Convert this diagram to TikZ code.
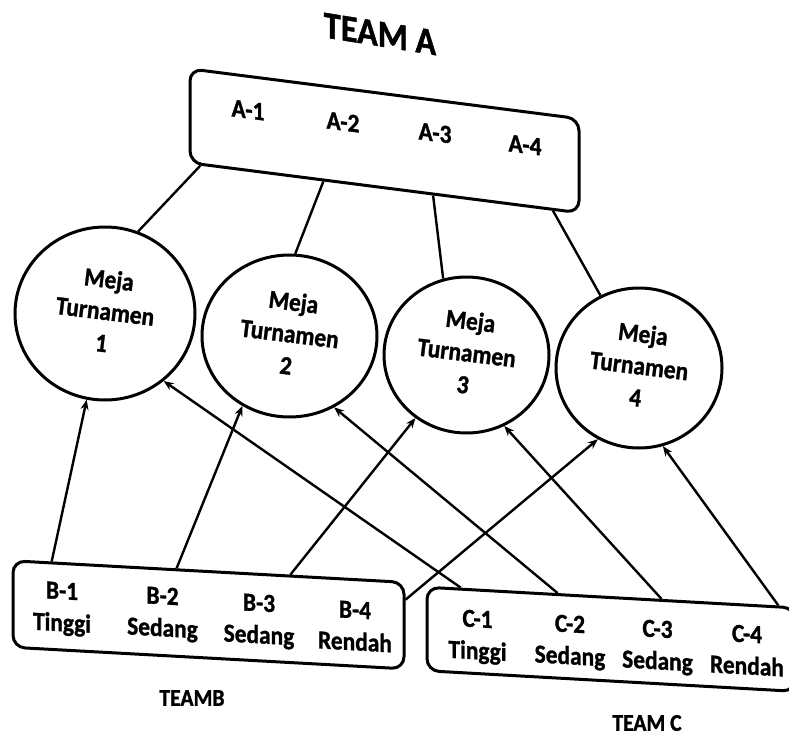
\documentclass[tikz,border=0pt]{standalone}
\usepackage{fontspec}
\setmainfont{Carlito}[FakeStretch=0.9, BoldFeatures={FakeBold=1.2}]
\usetikzlibrary{shapes.geometric,arrows.meta,calc}
\begin{document}
\begin{tikzpicture}[x=1pt,y=-1pt,
  txt/.style={font=\bfseries\fontsize{26}{32}\selectfont, align=center, inner sep=0pt},
  teambox/.style={draw, line width=3pt, rectangle, rounded corners=12pt, inner sep=0pt},
  mejacircle/.style={draw, ellipse, line width=3pt, inner sep=0pt,
    font=\bfseries\fontsize{26}{32}\selectfont},
  link/.style={line width=2.4pt},
  arr/.style={line width=2.4pt, -{Stealth[length=10pt,width=8pt]}}]
\useasboundingbox (0,0) rectangle (789,738);
\clip (0,0) rectangle (789,738);
\fill[white] (0,0) rectangle (789,738);

% title
\node[font=\bfseries\fontsize{38}{40}\selectfont, inner sep=0pt, yslant=-0.16] (title) at (380,34) {TEAM A};

% team boxes
\node[teambox, minimum width=389pt, minimum height=94pt, yslant=-0.128] (A) at (384.5,140.8) {};
\node[teambox, minimum width=391pt, minimum height=86.5pt, yslant=-0.055] (B) at (208.5,614.8) {};
\node[teambox, minimum width=368pt, minimum height=83.5pt, yslant=-0.056] (C) at (611,639.3) {};

% labels in A
\node[txt, yslant=-0.128] (a1) at (248,110) {A-1};
\node[txt, yslant=-0.128] (a2) at (343,122) {A-2};
\node[txt, yslant=-0.128] (a3) at (435,133) {A-3};
\node[txt, yslant=-0.128] (a4) at (525,145) {A-4};

% labels in B
\node[txt, yslant=-0.055] (b1) at (62,609) {B-1\\Tinggi};
\node[txt, yslant=-0.055] (b2) at (162.5,614) {B-2\\Sedang};
\node[txt, yslant=-0.055] (b3) at (259,621) {B-3\\Sedang};
\node[txt, yslant=-0.055] (b4) at (355,626) {B-4\\Rendah};

% labels in C
\node[txt, yslant=-0.056] (c1) at (477.5,637) {C-1\\Tinggi};
\node[txt, yslant=-0.056] (c2) at (570,642) {C-2\\Sedang};
\node[txt, yslant=-0.056] (c3) at (657.5,647) {C-3\\Sedang};
\node[txt, yslant=-0.056] (c4) at (747,650) {C-4\\Rendah};

% team names
\node[font=\bfseries\fontsize{24}{26}\selectfont, inner sep=0pt] (tb) at (192,698) {TEAMB};
\node[font=\bfseries\fontsize{24}{26}\selectfont, inner sep=0pt] (tc) at (647,723) {TEAM C};

% tournament tables
\node[mejacircle, minimum width=180pt, minimum height=173pt] (m1) at (105,313.5)
  {\rotatebox{-7}{\begin{tabular}{@{}c@{}}Meja\\Turnamen\\1\end{tabular}}};
\node[mejacircle, minimum width=175pt, minimum height=162pt] (m2) at (289.5,336)
  {\rotatebox{-7}{\begin{tabular}{@{}c@{}}Meja\\Turnamen\\2\end{tabular}}};
\node[mejacircle, minimum width=165pt, minimum height=156pt] (m3) at (466.5,355)
  {\rotatebox{-7}{\begin{tabular}{@{}c@{}}Meja\\Turnamen\\3\end{tabular}}};
\node[mejacircle, minimum width=166pt, minimum height=160pt] (m4) at (639,368)
  {\rotatebox{-7}{\begin{tabular}{@{}c@{}}Meja\\Turnamen\\4\end{tabular}}};

% team A to tables
\draw[link] ($(A.south west)!0.03!(A.south east)$) -- (m1.68);
\draw[link] ($(A.south west)!0.344!(A.south east)$) -- (m2.86);
\draw[link] ($(A.south west)!0.624!(A.south east)$) -- (m3.107);
\draw[link] ($(A.south west)!0.93!(A.south east)$) -- (m4.118);

% team B to tables
\draw[arr] ($(B.north west)!0.102!(B.north east)$) -- (m1.-102);
\draw[arr] ($(B.north west)!0.419!(B.north east)$) -- (m2.-124);
\draw[arr] ($(B.north west)!0.708!(B.north east)$) -- (m3.-129);
\draw[arr] ($(B.north east)!0.21!(B.south east)$) -- (m4.-120);

% team C to tables
\draw[arr] ($(C.north west)!0.095!(C.north east)$) -- (m1.-49.5);
\draw[arr] ($(C.north west)!0.356!(C.north east)$) -- (m2.-58);
\draw[arr] ($(C.north west)!0.636!(C.north east)$) -- (m3.-62);
\draw[arr] ($(C.north west)!0.951!(C.north east)$) -- (m4.-73);
\end{tikzpicture}
\end{document}
